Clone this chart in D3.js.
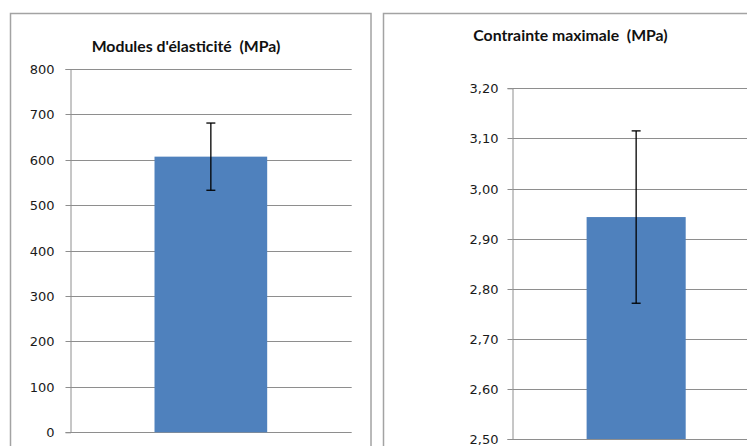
<!DOCTYPE html>
<html><head><meta charset="utf-8">
<script src="https://cdn.jsdelivr.net/npm/d3@7"></script>
<style>html,body{margin:0;padding:0;background:#fff;}svg{display:block;}</style>
</head><body>
<svg id="c" width="747" height="446"></svg>
<script>
const titles = ["Modules d'élasticité  (MPa)", "Contrainte maximale  (MPa)"];
const categories = ["Moyenne"];
const means = [607, 2.943];
const errors = [74, 0.172];
const leftTicks = [0, 100, 200, 300, 400, 500, 600, 700, 800];
const rightTicks = [2.5, 2.6, 2.7, 2.8, 2.9, 3.0, 3.1, 3.2];

const svg = d3.select("#c");
const fmtR = d => d3.format(".2f")(d).replace(".", ",");

const panels = [
  {box:[10.5, 13.5, 360.5, 460], title: titles[0], tx: 186, ty: 52, plot:[70, 351.7], yr:[432.3, 69], domain:[0, 800], ticks: leftTicks, fmt: d => String(d), pad: 11, mean: means[0], err: errors[0]},
  {box:[383.5, 13.5, 400, 460], title: titles[1], tx: 570.5, ty: 41, plot:[512.3, 760], yr:[439, 88.3], domain:[2.5, 3.2], ticks: rightTicks, fmt: fmtR, pad: 9, mean: means[1], err: errors[1]}
];

panels.forEach(p => {
  const g = svg.append("g");
  g.append("rect").attr("x", p.box[0]).attr("y", p.box[1]).attr("width", p.box[2]).attr("height", p.box[3])
    .attr("fill", "#fff").attr("stroke", "#a3a3a3").attr("stroke-width", 1.5);
  const y = d3.scaleLinear().domain(p.domain).range(p.yr);
  const x = d3.scaleBand().domain(categories).range(p.plot).paddingInner(0).paddingOuter(0.75);
  // gridlines
  g.selectAll("line.grid").data(p.ticks).join("line").attr("class","grid")
    .attr("x1", p.plot[0]).attr("x2", p.plot[1])
    .attr("y1", d => Math.round(y(d)) + 0.5).attr("y2", d => Math.round(y(d)) + 0.5)
    .attr("stroke", "#8e8e8e").attr("stroke-width", 1);
  // axis
  const axis = d3.axisLeft(y).tickValues(p.ticks).tickFormat(p.fmt).tickSize(5).tickPadding(p.pad);
  const ax = g.append("g").attr("transform", `translate(${Math.round(p.plot[0]) + 0.5},0)`).call(axis);
  ax.select(".domain").attr("stroke", "#8e8e8e");
  ax.selectAll(".tick line").attr("stroke", "#8e8e8e");
  ax.selectAll(".tick").attr("transform", d => `translate(0,${Math.round(y(d)) + 0.5})`);
  ax.selectAll("text").attr("font-family", "DejaVu Sans, Verdana, sans-serif").attr("font-size", 13).attr("fill", "#1a1a1a");
  // bar
  g.selectAll("rect.bar").data(categories).join("rect").attr("class","bar")
    .attr("x", d => x(d)).attr("width", x.bandwidth())
    .attr("y", y(p.mean)).attr("height", y(p.domain[0]) - y(p.mean))
    .attr("fill", "#4f81bd");
  // error bar
  const cx = x(categories[0]) + x.bandwidth() / 2;
  const eg = g.append("g").attr("stroke", "#000").attr("stroke-width", 1.3);
  eg.append("line").attr("x1", cx).attr("x2", cx).attr("y1", y(p.mean + p.err)).attr("y2", y(p.mean - p.err));
  [p.mean + p.err, p.mean - p.err].forEach(v => {
    eg.append("line").attr("x1", cx - 4.5).attr("x2", cx + 4.5).attr("y1", y(v)).attr("y2", y(v));
  });
  // title
  g.append("text").attr("x", p.tx).attr("y", p.ty).attr("text-anchor", "middle")
    .attr("font-family", "Lato, 'Open Sans', sans-serif").attr("font-weight", "bold").attr("font-size", 15.8)
    .attr("fill", "#111").attr("xml:space", "preserve").style("white-space", "pre").text(p.title);
});
</script>
</body></html>
